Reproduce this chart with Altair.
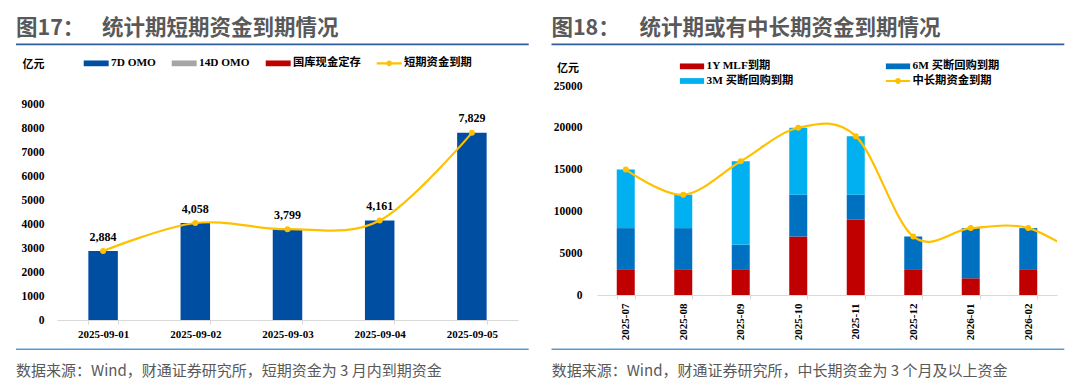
import altair as alt
import pandas as pd

# ---------------- left panel data ----------------
L_DATES = ["2025-09-01", "2025-09-02", "2025-09-03", "2025-09-04", "2025-09-05"]
L_OMO7 = [2884, 4058, 3799, 4161, 7829]
L_OMO14 = [0, 0, 0, 0, 0]
L_DEPOSIT = [0, 0, 0, 0, 0]
L_TOTAL = [2884, 4058, 3799, 4161, 7829]
L_SERIES = ["7D OMO", "14D OMO", "国库现金定存", "短期资金到期"]
L_YTICKS = [0, 1000, 2000, 3000, 4000, 5000, 6000, 7000, 8000, 9000]

# ---------------- right panel data ----------------
R_MONTHS = ["2025-07", "2025-08", "2025-09", "2025-10", "2025-11", "2025-12", "2026-01", "2026-02"]
R_MLF = [3000, 3000, 3000, 7000, 9000, 3000, 2000, 3000]
R_BUY6M = [5000, 5000, 3000, 5000, 3000, 4000, 6000, 5000]
R_BUY3M = [7000, 4000, 10000, 8000, 7000, 0, 0, 0]
R_TOTAL = [15000, 12000, 16000, 20000, 19000, 7000, 8000, 8000]
R_TOTAL_BEYOND = [4300]  # the smoothed line runs on past the last month and is cut at the frame
R_SERIES = ["1Y MLF到期", "6M 买断回购到期", "3M 买断回购到期", "中长期资金到期"]
R_YTICKS = [0, 5000, 10000, 15000, 20000, 25000]

TITLE_L = ["图17：", "统计期短期资金到期情况"]
TITLE_R = ["图18：", "统计期或有中长期资金到期情况"]
SOURCE_L = "数据来源：Wind，财通证券研究所，短期资金为 3 月内到期资金"
SOURCE_R = "数据来源：Wind，财通证券研究所，中长期资金为 3 个月及以上资金"
UNIT = "亿元"

# ---------------- styles ----------------
SERIF = "'Liberation Serif', 'Noto Sans CJK SC', serif"
SANS = "'Noto Sans CJK SC', sans-serif"
GOLD = "#FFC000"
GREY_TXT = "#595959"
RULE_TOP = "#2E5C9E"
RULE_BOT = "#5B9BD5"
L_COLORS = ["#004EA2", "#A6A6A6", "#C00000", GOLD]
R_COLORS = ["#C00000", "#0070C0", "#00B0F0", GOLD]

RECT_L = "M-2.08,-0.48L2.08,-0.48L2.08,0.48L-2.08,0.48Z"
LINE_L = ("M-2.08,-0.18L2.08,-0.18L2.08,0.18L-2.08,0.18Z"
          "M-0.48,0A0.48,0.48 0 1,1 0.48,0A0.48,0.48 0 1,1 -0.48,0Z")
RECT_R = "M-2.02,-0.48L2.02,-0.48L2.02,0.48L-2.02,0.48Z"
LINE_R = ("M-2.02,-0.18L2.02,-0.18L2.02,0.18L-2.02,0.18Z"
          "M-0.48,0A0.48,0.48 0 1,1 0.48,0A0.48,0.48 0 1,1 -0.48,0Z")

LW, LH = 461, 234
RW, RH = 460, 209


def text_layer(s, x, y, size, weight, color, font=SANS):
    return alt.Chart(pd.DataFrame({"t": [s]})).mark_text(
        align="left", baseline="middle", font=font, fontSize=size,
        fontWeight=weight, color=color
    ).encode(text="t:N", x=alt.value(x), y=alt.value(y))


def hrule(x1, x2, y, color, w):
    return alt.Chart(pd.DataFrame({"r": [0]})).mark_rule(
        color=color, strokeWidth=w
    ).encode(x=alt.value(x1), x2=alt.value(x2), y=alt.value(y))


# ================= left panel =================
l_bar_rows = []
for i, d in enumerate(L_DATES):
    for k, vals in enumerate([L_OMO7, L_OMO14, L_DEPOSIT]):
        l_bar_rows.append({"date": d, "series": L_SERIES[k], "value": vals[i], "k": k})
l_bars_df = pd.DataFrame(l_bar_rows)
l_line_df = pd.DataFrame({"date": L_DATES, "total": L_TOTAL})

l_xscale = alt.Scale(domain=L_DATES, paddingInner=0.68, paddingOuter=0.34)
l_yscale = alt.Scale(domain=[0, 9790], nice=False, zero=True)

l_xaxis = alt.Axis(labelAngle=0, labelFont=SERIF, labelFontSize=11, labelFontWeight="bold",
                   labelColor="#000000", labelPadding=4, domainColor="#D9D9D9", domainWidth=1,
                   tickColor="#D9D9D9", tickSize=4, tickBand="extent", labelOverlap=False)
l_yaxis = alt.Axis(values=L_YTICKS, format="d", domain=False, ticks=False, grid=False,
                   labelFont=SERIF, labelFontSize=11.5, labelFontWeight="bold",
                   labelColor="#000000", labelPadding=13, labelOverlap=False,
                   titleAngle=0, titleX=-35, titleY=-22, titleAlign="left",
                   titleBaseline="middle", titleFont=SERIF, titleFontSize=11,
                   titleFontWeight="bold", titleColor="#000000")
l_x = alt.X("date:N", scale=l_xscale, axis=l_xaxis, title=None)

l_bars = alt.Chart(l_bars_df).mark_bar().encode(
    x=l_x,
    y=alt.Y("value:Q", stack="zero", scale=l_yscale, axis=l_yaxis, title=UNIT),
    color=alt.Color("series:N", scale=alt.Scale(domain=L_SERIES[:3], range=L_COLORS[:3]), legend=None),
    order=alt.Order("k:Q", sort="ascending"),
)
l_y_total = alt.Y("total:Q", scale=l_yscale, axis=l_yaxis, title=UNIT)
l_line = alt.Chart(l_line_df).mark_line(
    interpolate="cardinal", tension=0, color=GOLD, strokeWidth=2.2
).encode(x=l_x, y=l_y_total)
l_pts = alt.Chart(l_line_df).mark_circle(size=36, color=GOLD, opacity=1).encode(x=l_x, y=l_y_total)
l_lbl = alt.Chart(l_line_df).mark_text(
    dy=-14.5, font=SERIF, fontSize=12, fontWeight="bold", color="#000000", baseline="middle"
).encode(x=l_x, y=l_y_total, text=alt.Text("total:Q", format=","))

l_leg_def = alt.Legend(orient="none", legendX=33.2, legendY=-29, direction="horizontal",
                       columns=4, columnPadding=15, title=None, symbolSize=144,
                       symbolStrokeWidth=0, symbolOpacity=1, labelFont=SERIF,
                       labelFontSize=11.3, labelFontWeight="bold", labelColor="#000000",
                       labelOffset=8.8, padding=0, rowPadding=3)
l_leg = alt.Chart(pd.DataFrame({"series": L_SERIES})).transform_filter("false").mark_point(
    filled=True
).encode(
    color=alt.Color("series:N", scale=alt.Scale(domain=L_SERIES, range=L_COLORS), legend=l_leg_def),
    shape=alt.Shape("series:N", scale=alt.Scale(domain=L_SERIES, range=[RECT_L, RECT_L, RECT_L, LINE_L]),
                    legend=l_leg_def),
)

left = alt.layer(
    hrule(-48, -47, -77, "#FFFFFF", 1),
    text_layer(TITLE_L[0], -41, -57.5, 21.5, "bold", GREY_TXT),
    text_layer(TITLE_L[1], 45, -57.5, 21.5, "bold", GREY_TXT),
    hrule(-41, 471.7, -41.7, RULE_TOP, 1.7),
    hrule(-41, 471.7, 263.3, RULE_BOT, 1.4),
    text_layer(SOURCE_L, -41, 284.5, 15, "normal", GREY_TXT),
    l_bars, l_line, l_pts, l_lbl, l_leg,
).resolve_scale(color="independent", shape="independent").properties(width=LW, height=LH)

# ================= right panel =================
r_bar_rows = []
for i, m in enumerate(R_MONTHS):
    for k, vals in enumerate([R_MLF, R_BUY6M, R_BUY3M]):
        r_bar_rows.append({"month": m, "series": R_SERIES[k], "value": vals[i], "k": k})
r_bars_df = pd.DataFrame(r_bar_rows)
r_all_totals = R_TOTAL + R_TOTAL_BEYOND
r_line_df = pd.DataFrame({"idx": list(range(len(r_all_totals))), "total": r_all_totals})
r_pts_df = pd.DataFrame({"idx": list(range(len(R_TOTAL))), "total": R_TOTAL})

r_xscale = alt.Scale(domain=R_MONTHS, paddingInner=0.687, paddingOuter=0.3435)
r_iscale = alt.Scale(domain=[-0.5, len(R_MONTHS) - 0.5], nice=False, zero=False)
r_yscale = alt.Scale(domain=[0, 25000], nice=False, zero=True)

r_xaxis = alt.Axis(labelAngle=270, labelFont=SERIF, labelFontSize=11, labelFontWeight="bold",
                   labelColor="#000000", labelPadding=4, domainColor="#D9D9D9", domainWidth=1,
                   tickColor="#D9D9D9", tickSize=4, tickBand="extent", labelOverlap=False)
r_yaxis = alt.Axis(values=R_YTICKS, format="d", domain=False, ticks=False, grid=False,
                   labelFont=SERIF, labelFontSize=11.5, labelFontWeight="bold",
                   labelColor="#000000", labelPadding=15, labelOverlap=False,
                   titleAngle=0, titleX=-40.4, titleY=-17.5, titleAlign="left",
                   titleBaseline="middle", titleFont=SERIF, titleFontSize=11,
                   titleFontWeight="bold", titleColor="#000000")

r_bars = alt.Chart(r_bars_df).mark_bar().encode(
    x=alt.X("month:N", scale=r_xscale, axis=r_xaxis, title=None),
    y=alt.Y("value:Q", stack="zero", scale=r_yscale, axis=r_yaxis, title=UNIT),
    color=alt.Color("series:N", scale=alt.Scale(domain=R_SERIES[:3], range=R_COLORS[:3]), legend=None),
    order=alt.Order("k:Q", sort="ascending"),
)
r_y_total = alt.Y("total:Q", scale=r_yscale, axis=r_yaxis, title=UNIT)
r_line = alt.Chart(r_line_df).mark_line(
    interpolate="cardinal", tension=0, color=GOLD, strokeWidth=2.2, clip=True
).encode(x=alt.X("idx:Q", scale=r_iscale, axis=None), y=r_y_total)
r_pts = alt.Chart(r_pts_df).mark_circle(size=36, color=GOLD, opacity=1).encode(
    x=alt.X("idx:Q", scale=r_iscale, axis=None), y=r_y_total
)
r_leg_def = alt.Legend(orient="none", legendX=89, legendY=-26, direction="horizontal",
                       columns=2, columnPadding=91, title=None, symbolSize=144,
                       symbolStrokeWidth=0, symbolOpacity=1, labelFont=SERIF,
                       labelFontSize=11.3, labelFontWeight="bold", labelColor="#000000",
                       labelOffset=8.5, padding=0, rowPadding=3)
r_leg = alt.Chart(pd.DataFrame({"series": R_SERIES})).transform_filter("false").mark_point(
    filled=True
).encode(
    color=alt.Color("series:N", scale=alt.Scale(domain=R_SERIES, range=R_COLORS), legend=r_leg_def),
    shape=alt.Shape("series:N", scale=alt.Scale(domain=R_SERIES, range=[RECT_R, RECT_R, RECT_R, LINE_R]),
                    legend=r_leg_def),
)

right = alt.layer(
    text_layer(TITLE_R[0], -45.6, -57.5, 21.5, "bold", GREY_TXT),
    text_layer(TITLE_R[1], 42.6, -57.5, 21.5, "bold", GREY_TXT),
    hrule(-45.5, 467.3, -41.7, RULE_TOP, 1.7),
    hrule(-45.5, 467.3, 263.3, RULE_BOT, 1.4),
    text_layer(SOURCE_R, -45.3, 284.5, 15, "normal", GREY_TXT),
    r_bars, r_line, r_pts, r_leg,
).resolve_scale(x="independent", color="independent", shape="independent").properties(width=RW, height=RH)

chart = alt.hconcat(left, right, spacing=79, bounds="flush").properties(
    padding=0, background="white"
).configure_view(stroke=None)

chart.save("out.html", embed_options={"renderer": "svg", "actions": False})
